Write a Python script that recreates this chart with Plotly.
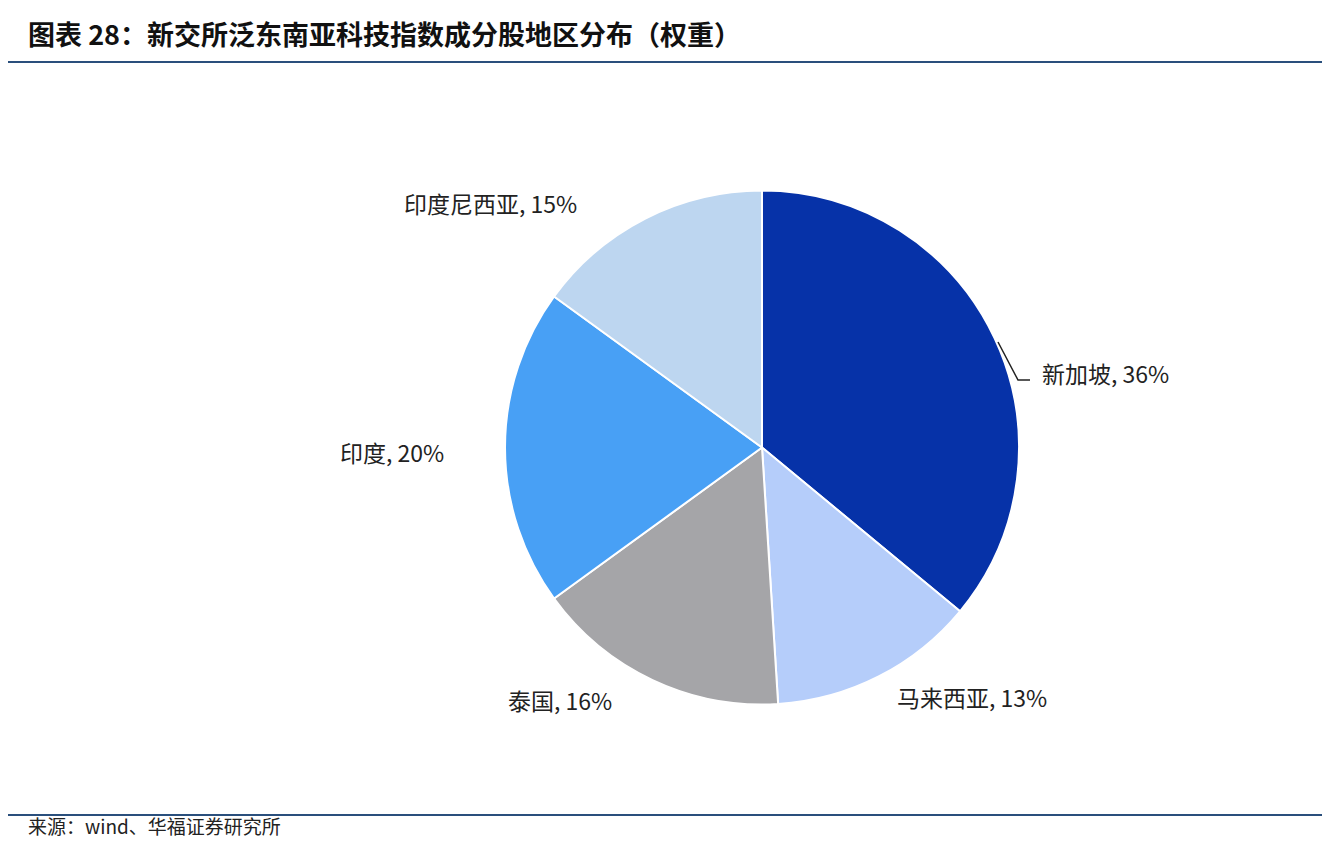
import plotly.graph_objects as go

regions = ["新加坡", "马来西亚", "泰国", "印度", "印度尼西亚"]
weights = [36, 13, 16, 20, 15]
colors = ["#0632A8", "#B5CDFA", "#A5A5A8", "#48A0F5", "#BDD6F0"]

W, H = 1338, 862
OFF = 8  # page offset seen in the render


def px(x):
    return (x - OFF) / W


def py(y):
    return 1 - (y - OFF) / H


fig = go.Figure(go.Pie(
    labels=regions, values=weights, sort=False, direction="clockwise",
    rotation=0, textinfo="none", hoverinfo="label+percent",
    marker=dict(colors=colors, line=dict(color="white", width=2)),
    domain=dict(x=[px(505), px(1019)], y=[py(705), py(190)]),
    showlegend=False,
))

font = "Noto Sans CJK SC, Liberation Serif, serif"
label_pos = [(1040, 373), (895, 716), (506, 719), (338, 452), (402, 184)]
anns = []
for name, v, (x, y) in zip(regions, weights, label_pos):
    anns.append(dict(x=px(x), y=py(y), xref="paper", yref="paper",
                     text=f"{name}, {v}%", showarrow=False, xanchor="left",
                     font=dict(family=font, size=23, color="#222")))
anns.append(dict(x=px(26), y=py(12), xref="paper", yref="paper",
                 text="<b>图表 28：新交所泛东南亚科技指数成分股地区分布（权重）</b>",
                 showarrow=False, xanchor="left",
                 font=dict(family=font, size=27, color="#111")))
anns.append(dict(x=px(26), y=py(841), xref="paper", yref="paper",
                 text="来源：wind、华福证券研究所", showarrow=False, xanchor="left",
                 font=dict(family=font, size=19, color="#222")))

shapes = [
    dict(type="line", xref="paper", yref="paper", x0=px(8), x1=px(1322),
         y0=py(62), y1=py(62), line=dict(color="#2A4F7C", width=2)),
    dict(type="line", xref="paper", yref="paper", x0=px(8), x1=px(1322),
         y0=py(815), y1=py(815), line=dict(color="#2A4F7C", width=2)),
    dict(type="path", xref="paper", yref="paper",
         path=f"M {px(998)} {py(342)} L {px(1018)} {py(380)} L {px(1030)} {py(380)}",
         line=dict(color="#222", width=1.5)),
]

fig.update_layout(width=W, height=H, margin=dict(l=0, r=0, t=0, b=0),
                  paper_bgcolor="white", plot_bgcolor="white",
                  annotations=anns, shapes=shapes)
fig.write_html("out.html")
